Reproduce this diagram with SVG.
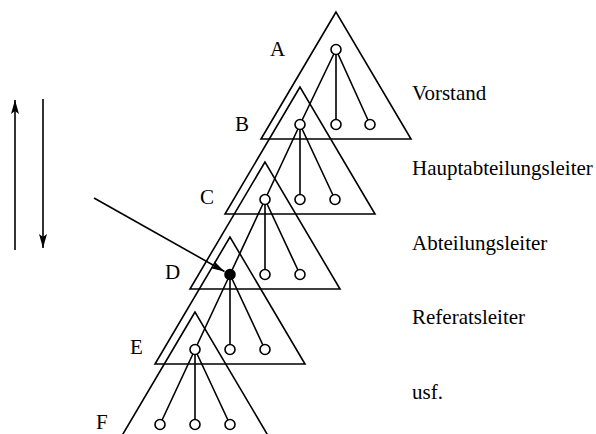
<svg xmlns="http://www.w3.org/2000/svg" width="596" height="434" viewBox="0 0 596 434">
<style>
.tri{fill:none;stroke:#000;stroke-width:1.6;stroke-linejoin:miter}
.e{stroke:#000;stroke-width:1.6;fill:none}
.n{fill:#fff;stroke:#000;stroke-width:1.6}
.f{fill:#000;stroke:#000;stroke-width:1.6}
text{font-family:"Liberation Serif","Times New Roman",serif;font-size:21px;fill:#000}
</style>
<defs>
<marker id="ah" viewBox="0 0 14 8" refX="14" refY="4" markerWidth="14" markerHeight="8" markerUnits="userSpaceOnUse" orient="auto">
<path d="M0,0 L14,4 L0,8 L3,4 Z" fill="#000"/>
</marker>
</defs>
<rect width="596" height="434" fill="#fff"/>
<g id="tri-A"><polygon class="tri" points="336,12 261,139 411,139"/><text x="270" y="56">A</text></g>
<g id="tri-B"><polygon class="tri" points="300,87 225,214 375,214"/><text x="235" y="131">B</text></g>
<g id="tri-C"><polygon class="tri" points="265,162 190,289 340,289"/><text x="200" y="204">C</text></g>
<g id="tri-D"><polygon class="tri" points="230,237 155,364 305,364"/><text x="165" y="279">D</text></g>
<g id="tri-E"><polygon class="tri" points="195,312 120,439 270,439"/><text x="130" y="354">E</text></g>
<g id="label-F"><text x="96" y="429">F</text></g>
<g id="connectors">
<path class="e" d="M336,49.5 L300,124.5 M336,49.5 L336,124.5 M336,49.5 L370,124.5"/>
<path class="e" d="M300,124.5 L265,199.5 M300,124.5 L300,199.5 M300,124.5 L335,199.5"/>
<path class="e" d="M265,199.5 L230,274.5 M265,199.5 L265,274.5 M265,199.5 L300,274.5"/>
<path class="e" d="M230,274.5 L195,349.5 M230,274.5 L230,349.5 M230,274.5 L265,349.5"/>
<path class="e" d="M195,349.5 L160,424.5 M195,349.5 L195,424.5 M195,349.5 L230,424.5"/>
<line class="e" x1="15" y1="250" x2="15" y2="100" marker-end="url(#ah)"/>
<line class="e" x1="43" y1="99" x2="43" y2="248" marker-end="url(#ah)"/>
<line class="e" x1="94" y1="198" x2="224.5" y2="271.5" marker-end="url(#ah)"/>
</g>
<g id="node-A"><circle class="n" cx="336" cy="49.5" r="5"/></g>
<g id="node-A2"><circle class="n" cx="336" cy="124.5" r="5"/></g>
<g id="node-A3"><circle class="n" cx="370" cy="124.5" r="5"/></g>
<g id="node-B"><circle class="n" cx="300" cy="124.5" r="5"/></g>
<g id="node-B2"><circle class="n" cx="300" cy="199.5" r="5"/></g>
<g id="node-B3"><circle class="n" cx="335" cy="199.5" r="5"/></g>
<g id="node-C"><circle class="n" cx="265" cy="199.5" r="5"/></g>
<g id="node-C2"><circle class="n" cx="265" cy="274.5" r="5"/></g>
<g id="node-C3"><circle class="n" cx="300" cy="274.5" r="5"/></g>
<g id="node-D"><circle class="f" cx="230" cy="274.5" r="5"/></g>
<g id="node-D2"><circle class="n" cx="230" cy="349.5" r="5"/></g>
<g id="node-D3"><circle class="n" cx="265" cy="349.5" r="5"/></g>
<g id="node-E"><circle class="n" cx="195" cy="349.5" r="5"/></g>
<g id="node-E1"><circle class="n" cx="160" cy="424.5" r="5"/></g>
<g id="node-E2"><circle class="n" cx="195" cy="424.5" r="5"/></g>
<g id="node-E3"><circle class="n" cx="230" cy="424.5" r="5"/></g>
<g id="labels">
<text x="412" y="100">Vorstand</text>
<text x="412" y="175">Hauptabteilungsleiter</text>
<text x="412" y="250">Abteilungsleiter</text>
<text x="412" y="324">Referatsleiter</text>
<text x="412" y="399">usf.</text>
</g>
</svg>
